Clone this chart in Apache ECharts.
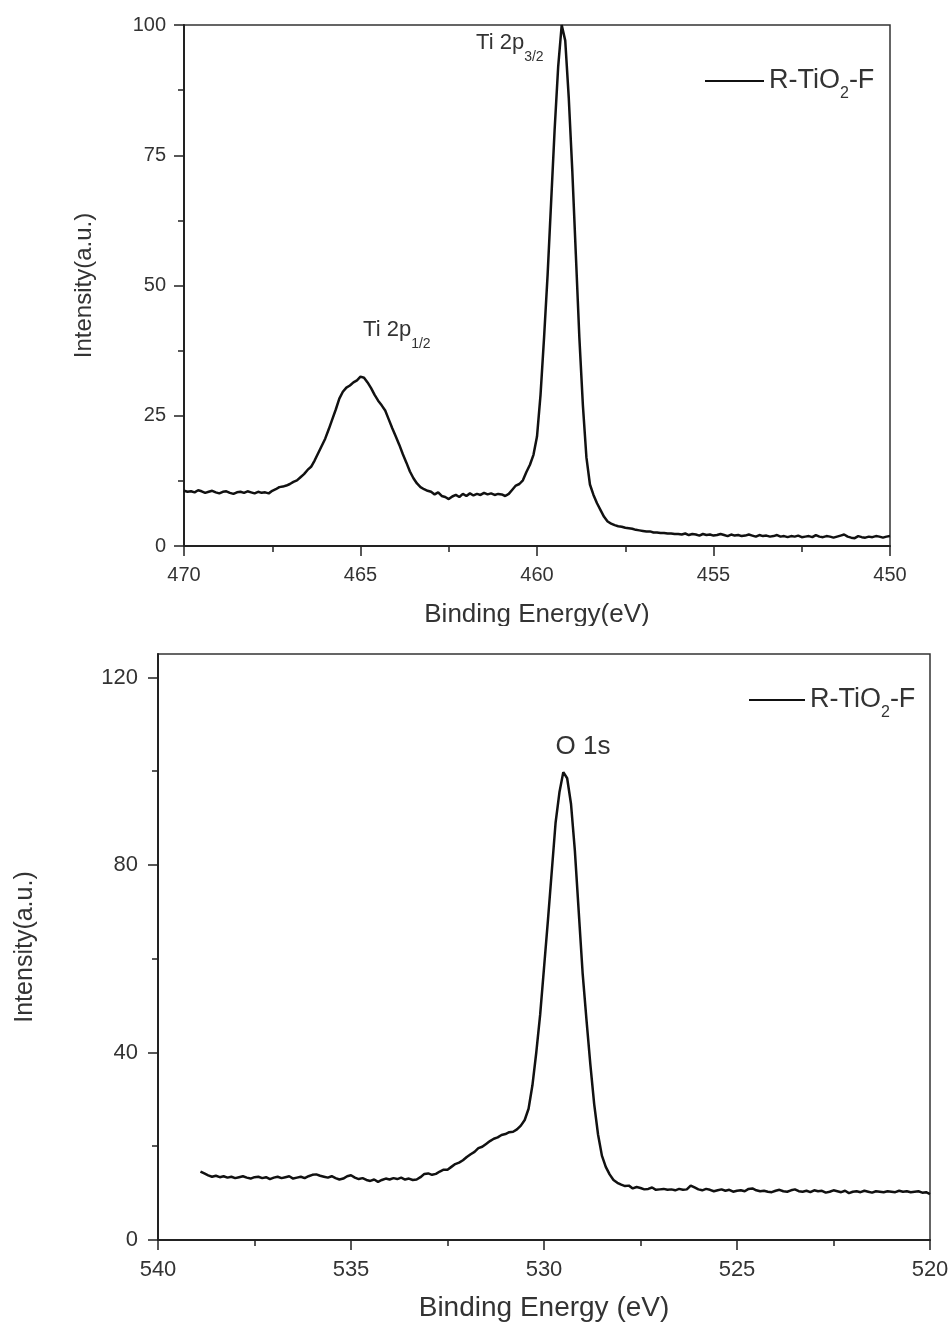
<!DOCTYPE html>
<html>
<head>
<meta charset="utf-8">
<script src="https://cdn.jsdelivr.net/npm/echarts@6/dist/echarts.min.js"></script>
<style>
  body { margin: 0; background: #fff; }
  #ti-chart { width: 952px; height: 626px; }
  #o-chart { width: 952px; height: 704px; }
</style>
</head>
<body>
<div id="ti-chart"></div>
<div id="o-chart"></div>
<script>
var seriesName = 'R-TiO2-F';
var fontName = '"Liberation Sans", Arial, sans-serif';

// Ti 2p scan: 470.0 -> 450.0 eV, 0.1 eV per point
var tiStart = 470.0;
var tiStep = -0.1;
var tiIntensity = [
  10.6, 10.4, 10.5, 10.3, 10.7, 10.5, 10.2, 10.4, 10.6, 10.3,
  10.1, 10.4, 10.5, 10.2, 10.0, 10.3, 10.4, 10.2, 10.5, 10.3,
  10.1, 10.4, 10.2, 10.3, 10.1, 10.6,
  10.9, 11.3, 11.4, 11.6, 11.9, 12.3, 12.6, 13.2, 13.8, 14.6,
  15.2, 16.4, 17.8, 19.2, 20.6, 22.4, 24.3, 26.2, 28.3, 29.6,
  30.4, 30.8, 31.4, 31.8, 32.5, 32.3, 31.4, 30.3, 29.0, 27.9,
  27.0, 26.0, 24.3, 22.6, 21.0, 19.4, 17.6, 16.0, 14.3, 13.0,
  12.0, 11.3, 10.9, 10.6, 10.4,
  9.9, 10.3, 9.6, 9.4, 9.0, 9.5, 9.8, 9.4, 10.0, 9.6,
  10.1, 9.7, 10.0, 9.8, 10.2, 9.9, 10.1, 9.8, 10.0, 9.9,
  9.6, 10.0,
  10.8, 11.6, 11.9, 12.6, 14.2, 15.6, 17.5, 21.0, 29.0, 40.0,
  52.0, 66.0, 80.0, 92.0, 100.0, 97.0, 86.0, 72.0, 56.0, 40.0,
  27.0, 17.0, 11.8, 9.8, 8.2, 6.9, 5.6, 4.7,
  4.3, 4.0, 3.8, 3.7, 3.5, 3.4, 3.3, 3.1, 3.0, 2.9,
  2.8, 2.8, 2.6, 2.6, 2.5, 2.5, 2.4, 2.4, 2.3, 2.3,
  2.2, 2.4, 2.1, 2.3, 2.2, 2.0, 2.3, 2.1, 2.2, 2.0,
  2.1, 2.3, 2.1, 1.9, 2.2, 2.0, 2.1, 1.9, 2.0, 2.2,
  2.0, 1.8, 2.1, 1.9, 2.0, 1.8, 1.9, 2.1, 1.8, 1.9,
  1.7, 1.9, 1.8, 2.0, 1.7, 1.8, 1.9, 1.7, 2.1, 1.8,
  1.7, 1.9, 1.8, 1.6, 1.8, 2.0, 2.2, 1.8, 1.6, 1.5,
  1.9, 1.7, 1.6, 1.8, 1.7, 1.9, 1.8, 1.6, 1.8, 1.9
];

// O 1s scan: 538.9 -> 520.0 eV, 0.1 eV per point
var oStart = 538.9;
var oStep = -0.1;
var oIntensity = [
  14.6, 14.2, 13.8, 13.5, 13.7, 13.4, 13.6, 13.3, 13.5, 13.2,
  13.4, 13.6, 13.3, 13.1, 13.4, 13.5, 13.2, 13.4, 13.0, 13.3,
  13.5, 13.2, 13.4, 13.6, 13.1, 13.3, 13.5, 13.2, 13.6, 13.9,
  14.0, 13.7, 13.5, 13.3, 13.6, 13.2, 12.9, 13.1, 13.6, 13.8,
  13.3, 13.0, 13.2, 12.8, 12.6, 12.9, 12.4, 12.8, 13.1, 12.9,
  13.2, 13.0, 13.3, 12.9, 13.1, 12.8, 12.9,
  13.4, 14.1, 14.2, 13.9, 14.1, 14.6, 15.0, 15.0, 15.6, 16.2,
  16.5, 17.0, 17.7, 18.3, 18.8, 19.6, 19.9, 20.5, 21.1, 21.6,
  21.9, 22.4, 22.6, 23.0, 23.1, 23.6, 24.4, 25.6, 28.0, 33.0,
  40.0, 48.0,
  58.0, 68.0, 78.5, 89.0, 95.5, 99.8, 98.5, 93.0, 83.0, 70.0,
  57.0, 47.0, 37.5, 29.0, 22.5, 18.0, 15.6, 14.0, 12.8, 12.2,
  11.8,
  11.5, 11.6, 11.0, 11.3, 11.1, 10.8, 10.9, 11.2, 10.7, 10.8,
  10.9, 10.7, 10.8, 10.6, 10.9, 10.7, 10.8, 11.6, 11.2, 10.8,
  10.6, 10.9, 10.7, 10.4, 10.6, 10.8, 10.5, 10.7, 10.3, 10.5,
  10.6, 10.4, 10.9, 11.0, 10.6, 10.4, 10.5, 10.3, 10.2, 10.5,
  10.7, 10.4, 10.3, 10.6, 10.8, 10.4, 10.3, 10.5, 10.2, 10.6,
  10.4, 10.5, 10.1, 10.3, 10.6, 10.4, 10.2, 10.5, 10.0, 10.3,
  10.4, 10.2, 10.5, 10.3, 10.1, 10.4, 10.3, 10.2, 10.4, 10.3,
  10.2, 10.5, 10.3, 10.4, 10.2, 10.3, 10.4, 10.1, 10.2, 9.8
];

var oMajorTicks = [0, 40, 80, 120];
var oMinorTicks = [20, 60, 100];

function toPairs(start, step, values) {
  return values.map(function (v, i) {
    return [+(start + i * step).toFixed(1), v];
  });
}

// subscripts: top padding on a middle-aligned token pushes it down by half the padding
var legendText = function () {
  return '{a|R-TiO}{s|2}{a|-F}';
};
var legendRich = {
  a: { fontSize: 27, lineHeight: 28, color: '#333', fontFamily: fontName },
  s: { fontSize: 16, lineHeight: 16, padding: [26, 0, 0, 0], color: '#333', fontFamily: fontName }
};

function xAxisFor(min, max, name, labelSize, nameSize, nameGap) {
  return {
    type: 'value', min: min, max: max, interval: 5, inverse: true,
    name: name, nameLocation: 'middle', nameGap: nameGap,
    nameTextStyle: { fontSize: nameSize, color: '#333', fontFamily: fontName },
    axisLine: { lineStyle: { color: '#222', width: 2 } },
    axisTick: { length: 10, lineStyle: { color: '#222', width: 1.5 } },
    minorTick: { show: true, splitNumber: 2, length: 6, lineStyle: { color: '#222', width: 1.5 } },
    axisLabel: { fontSize: labelSize, margin: 19, color: '#333', fontFamily: fontName },
    splitLine: { show: false }
  };
}

var lineSeries = function (data) {
  return {
    name: seriesName,
    type: 'line',
    data: data,
    showSymbol: false,
    symbol: 'none',
    lineStyle: { color: '#111', width: 2.5 },
    itemStyle: { color: '#111' }
  };
};

// ---------- Ti 2p ----------
var chartDom = document.getElementById('ti-chart');
var myChart = echarts.init(chartDom);

var tiSeries = lineSeries(toPairs(tiStart, tiStep, tiIntensity));
tiSeries.markPoint = {
  symbol: 'circle', symbolSize: 1, silent: true,
  itemStyle: { color: 'rgba(0,0,0,0)' },
  label: {
    show: true, position: 'inside',
    rich: {
      a: { fontSize: 22, lineHeight: 24, color: '#333', fontFamily: fontName },
      s: { fontSize: 14, lineHeight: 14, padding: [28, 0, 0, 0], color: '#333', fontFamily: fontName }
    }
  },
  data: [
    { coord: [460.77, 96.6], label: { formatter: '{a|Ti 2p}{s|3/2}' } },
    { coord: [463.97, 41.5], label: { formatter: '{a|Ti 2p}{s|1/2}' } }
  ]
};

var option = {
  animation: false,
  textStyle: { fontFamily: fontName, color: '#333' },
  grid: {
    left: 184, right: 62, top: 25, bottom: 80, outerBoundsMode: 'none',
    show: true, borderColor: '#333', borderWidth: 1.5
  },
  legend: {
    data: [seriesName], left: 705, top: 60, padding: 0,
    icon: 'rect', itemWidth: 59, itemHeight: 2,
    formatter: legendText, textStyle: { rich: legendRich }
  },
  xAxis: xAxisFor(450, 470, 'Binding Energy(eV)', 20, 26, 56),
  yAxis: {
    type: 'value', min: 0, max: 100, interval: 25,
    name: 'Intensity(a.u.)', nameLocation: 'middle', nameGap: 88,
    nameTextStyle: { fontSize: 24, color: '#333', fontFamily: fontName },
    axisLine: { show: true, lineStyle: { color: '#222', width: 2 } },
    axisTick: { show: true, length: 10, lineStyle: { color: '#222', width: 1.5 } },
    minorTick: { show: true, splitNumber: 2, length: 6, lineStyle: { color: '#222', width: 1.5 } },
    axisLabel: { fontSize: 20, margin: 18, color: '#333', fontFamily: fontName },
    splitLine: { show: false }
  },
  series: [tiSeries]
};
option && myChart.setOption(option);

// ---------- O 1s ----------
var chartDom2 = document.getElementById('o-chart');
var myChart2 = echarts.init(chartDom2);

var oSeries = lineSeries(toPairs(oStart, oStep, oIntensity));
oSeries.markPoint = {
  symbol: 'circle', symbolSize: 1, silent: true,
  itemStyle: { color: 'rgba(0,0,0,0)' },
  label: { show: true, position: 'inside', fontSize: 26, color: '#333', fontFamily: fontName },
  data: [{ coord: [528.99, 105.3], label: { formatter: 'O 1s' } }]
};

var option2 = {
  animation: false,
  textStyle: { fontFamily: fontName, color: '#333' },
  grid: {
    left: 158, right: 22, top: 28, bottom: 90, outerBoundsMode: 'none',
    show: true, borderColor: '#333', borderWidth: 1.5
  },
  legend: {
    data: [seriesName], left: 749, top: 53, padding: 0,
    icon: 'rect', itemWidth: 56, itemHeight: 2,
    formatter: legendText, textStyle: { rich: legendRich }
  },
  xAxis: xAxisFor(520, 540, 'Binding Energy (eV)', 22, 28, 54),
  yAxis: [
    {
      type: 'value', min: 0, max: 125, interval: 40,
      name: 'Intensity(a.u.)', nameLocation: 'middle', nameGap: 120,
      nameTextStyle: { fontSize: 25, color: '#333', fontFamily: fontName },
      axisLine: { show: true, lineStyle: { color: '#222', width: 2 } },
      axisTick: { show: true, length: 10, customValues: oMajorTicks, lineStyle: { color: '#222', width: 1.5 } },
      axisLabel: { fontSize: 22, margin: 20, customValues: oMajorTicks, color: '#333', fontFamily: fontName },
      splitLine: { show: false }
    },
    {
      type: 'value', min: 0, max: 125, position: 'left', offset: 0,
      axisLine: { show: false },
      axisTick: { show: true, length: 6, customValues: oMinorTicks, lineStyle: { color: '#222', width: 1.5 } },
      axisLabel: { show: false },
      splitLine: { show: false }
    }
  ],
  series: [oSeries]
};
option2 && myChart2.setOption(option2);

window.addEventListener('resize', function () {
  myChart.resize();
  myChart2.resize();
});
</script>
</body>
</html>
